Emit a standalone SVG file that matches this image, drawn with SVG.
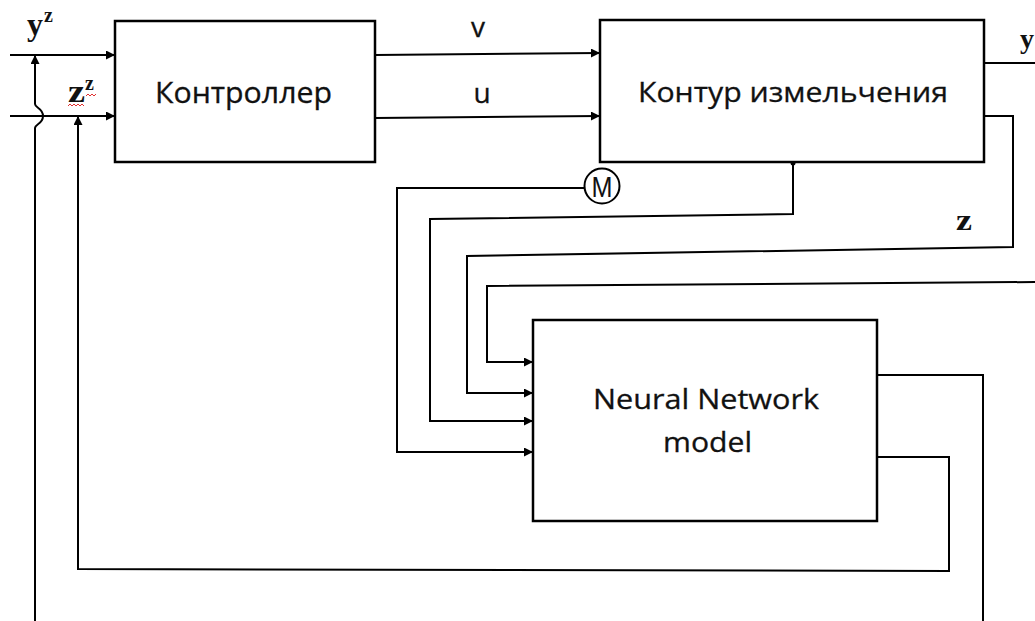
<svg xmlns="http://www.w3.org/2000/svg" width="1035" height="621" viewBox="0 0 1035 621">
  <style>
    .box { fill: #fff; stroke: #000; stroke-width: 2.5; }
    .wire { fill: none; stroke: #000; stroke-width: 2; }
    .sans { font-family: "Open Sans", "Liberation Sans", sans-serif; fill: #111; stroke: #111; stroke-width: 0.3; }
    .serif { font-family: "Liberation Serif", "DejaVu Serif", serif; font-weight: bold; fill: #111; }
    .squiggle { fill: none; stroke: #e03030; stroke-width: 1; }
  </style>
  <defs>
    <marker id="arrow" viewBox="0 0 10 10" refX="10" refY="5" markerWidth="11" markerHeight="9" markerUnits="userSpaceOnUse" orient="auto">
      <path d="M0,0 L10,5 L0,10 Z" fill="#000"/>
    </marker>
  </defs>

  <rect width="1035" height="621" fill="#fff"/>

  <!-- connectors -->
  <g id="connectors">
    <!-- setpoint inputs to the controller -->
    <path class="wire" d="M10,55 H115" marker-end="url(#arrow)"/>
    <path class="wire" d="M10,116 H115" marker-end="url(#arrow)"/>
    <!-- controller outputs v, u -->
    <path class="wire" d="M375,55 L600,53" marker-end="url(#arrow)"/>
    <path class="wire" d="M375,118 L600,116" marker-end="url(#arrow)"/>
    <!-- plant output y -->
    <path class="wire" d="M984,63 H1035"/>
    <!-- plant output z into the model -->
    <path class="wire" d="M984,116 H1013 V247 L467,256 V393 H533" marker-end="url(#arrow)"/>
    <!-- tap from the plant bottom into the model -->
    <circle cx="793" cy="163" r="2.5" fill="#000"/>
    <path class="wire" d="M793,163 V214 L430,219 V421 H533" marker-end="url(#arrow)"/>
    <!-- measured signal M into the model -->
    <path class="wire" d="M584,188 H397 V452 H533" marker-end="url(#arrow)"/>
    <!-- external input from the right -->
    <path class="wire" d="M1035,282 L487,286 V362 H533" marker-end="url(#arrow)"/>
    <!-- model outputs -->
    <path class="wire" d="M877,375 H983 V621"/>
    <path class="wire" d="M877,457 H949 V571 L78,569 V116" marker-end="url(#arrow)"/>
    <!-- y feedback with a hop over the z line -->
    <path class="wire" d="M35,621 V128 C35,124 43,124 43,116 C43,108 35,108 35,104 V55" marker-end="url(#arrow)"/>
  </g>

  <g id="controller">
    <rect class="box" x="115" y="21" width="260" height="141"/>
    <text class="sans" x="243.5" y="103" font-size="29" text-anchor="middle" textLength="177" lengthAdjust="spacingAndGlyphs">Контроллер</text>
  </g>

  <g id="grinding-circuit">
    <rect class="box" x="600" y="20" width="384" height="142"/>
    <text class="sans" x="793" y="102" font-size="28" text-anchor="middle" textLength="310" lengthAdjust="spacingAndGlyphs">Контур измельчения</text>
  </g>

  <g id="nn-model">
    <rect class="box" x="533" y="320" width="344" height="201"/>
    <text class="sans" x="706" y="409" font-size="28" text-anchor="middle" textLength="226" lengthAdjust="spacingAndGlyphs">Neural Network</text>
    <text class="sans" x="707.5" y="452" font-size="28" text-anchor="middle" textLength="89" lengthAdjust="spacingAndGlyphs">model</text>
  </g>

  <g id="sensor-m">
    <circle cx="602" cy="186" r="17.5" fill="#fff" stroke="#000" stroke-width="2"/>
    <text x="602" y="197" font-family="Liberation Sans, Arial, sans-serif" font-size="30" text-anchor="middle" textLength="21" lengthAdjust="spacingAndGlyphs" fill="#111">M</text>
  </g>

  <g id="labels">
    <text class="sans" x="478" y="37" font-size="28" text-anchor="middle">v</text>
    <text class="sans" x="482" y="103" font-size="28" text-anchor="middle">u</text>
    <text class="serif" x="27" y="35" font-size="31" textLength="16" lengthAdjust="spacingAndGlyphs">y</text>
    <text class="serif" x="44" y="22" font-size="20">z</text>
    <text class="serif" x="68" y="102" font-size="32" textLength="17" lengthAdjust="spacingAndGlyphs">z</text>
    <text class="serif" x="85" y="90" font-size="20">z</text>
    <path class="squiggle" d="M68,106 l2,-2 l2,2 l2,-2 l2,2 l2,-2 l2,2 l2,-2 l2,2"/>
    <path class="squiggle" d="M86,96 l2,-2 l2,2 l2,-2 l2,2 l2,-2"/>
    <text class="serif" x="956" y="230" font-size="30" textLength="16" lengthAdjust="spacingAndGlyphs">z</text>
    <text class="serif" x="1020" y="48" font-size="28">y</text>
  </g>
</svg>
